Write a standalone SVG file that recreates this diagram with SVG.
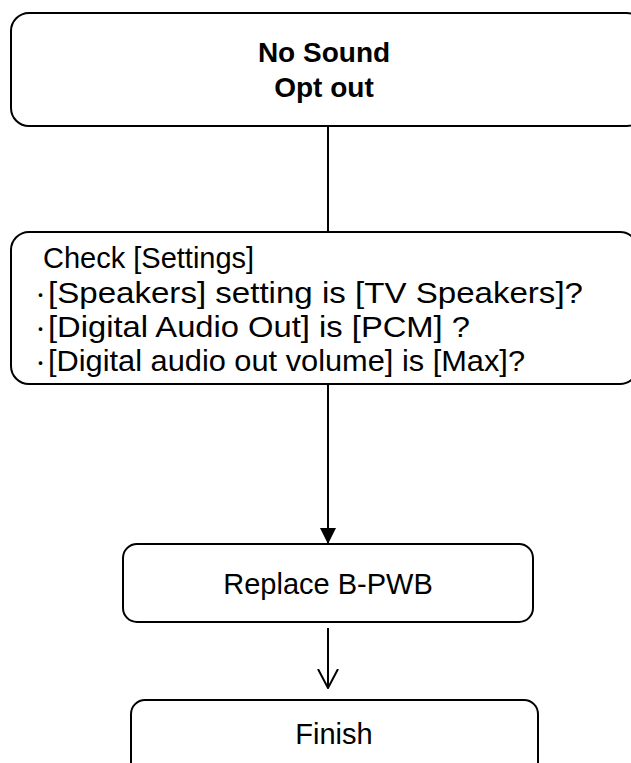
<svg xmlns="http://www.w3.org/2000/svg" width="631" height="763" viewBox="0 0 631 763">
<style>
.box{fill:#fff;stroke:#000;stroke-width:2}
.t{font-family:"Liberation Sans","Noto Sans CJK JP",Arial,sans-serif;font-size:29px;fill:#000}
.b{font-weight:bold;font-size:28px}
.l{font-size:30px}
.dot{font-size:22px}
.c{stroke:#000;stroke-width:2;fill:none}
</style>
<defs>
<marker id="fill" markerWidth="16" markerHeight="16" refX="15" refY="8" orient="auto" markerUnits="userSpaceOnUse">
<path d="M0,0 L16,8 L0,16 Z" fill="#000"/>
</marker>
<marker id="open" markerWidth="20" markerHeight="22" refX="19" refY="11" orient="auto" markerUnits="userSpaceOnUse">
<path d="M0,1 L19,11 L0,21" fill="none" stroke="#000" stroke-width="2"/>
</marker>
</defs>
<g id="connectors">
<line class="c" x1="328" y1="126" x2="328" y2="232"/>
<line class="c" x1="328" y1="384" x2="328" y2="543" marker-end="url(#fill)"/>
<line class="c" x1="328" y1="628" x2="328" y2="688" marker-end="url(#open)"/>
</g>
<g id="n1">
<rect class="box" x="11" y="13" width="634" height="113" rx="18"/>
<text class="t b" x="324" y="62" text-anchor="middle">No Sound</text>
<text class="t b" x="324" y="97" text-anchor="middle">Opt out</text>
</g>
<g id="n2">
<rect class="box" x="11" y="232" width="627" height="152" rx="18"/>
<text class="t" x="43" y="268">Check [Settings]</text>
<text class="t l" y="303"><tspan class="dot" x="35">･</tspan><tspan x="48" textLength="535" lengthAdjust="spacingAndGlyphs">[Speakers] setting is [TV Speakers]?</tspan></text>
<text class="t l" y="337"><tspan class="dot" x="35">･</tspan><tspan x="48" textLength="422" lengthAdjust="spacingAndGlyphs">[Digital Audio Out] is [PCM] ?</tspan></text>
<text class="t l" y="371"><tspan class="dot" x="35">･</tspan><tspan x="48" textLength="477" lengthAdjust="spacingAndGlyphs">[Digital audio out volume] is [Max]?</tspan></text>
</g>
<g id="n3">
<rect class="box" x="123" y="544" width="410" height="78" rx="14"/>
<text class="t" x="328" y="594" text-anchor="middle">Replace B-PWB</text>
</g>
<g id="n4">
<rect class="box" x="131" y="700" width="407" height="80" rx="14"/>
<text class="t" x="334" y="744" text-anchor="middle">Finish</text>
</g>
</svg>
